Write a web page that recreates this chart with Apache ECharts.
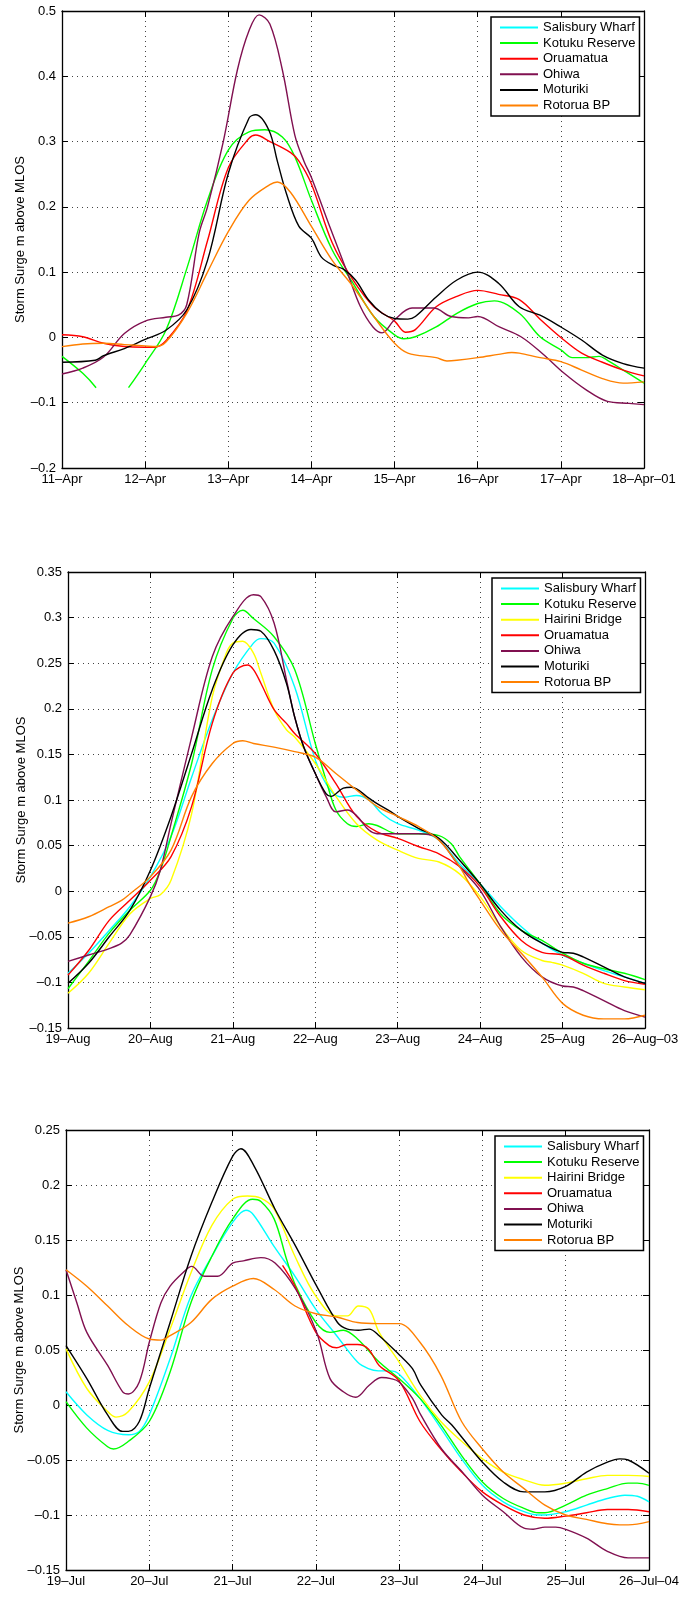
<!DOCTYPE html>
<html>
<head>
<meta charset="utf-8">
<script src="https://cdn.jsdelivr.net/npm/echarts@6/dist/echarts.min.js"></script>
<style>
  html, body { margin: 0; padding: 0; background: #fff; }
  #chart { width: 681px; height: 1613px; }
</style>
</head>
<body>
<div id="chart"></div>
<script>
// ---------- tick labels ----------
const p1XLabels = ['11–Apr', '12–Apr', '13–Apr', '14–Apr', '15–Apr', '16–Apr', '17–Apr', '18–Apr–01'];
const p2XLabels = ['19–Aug', '20–Aug', '21–Aug', '22–Aug', '23–Aug', '24–Aug', '25–Aug', '26–Aug–03'];
const p3XLabels = ['19–Jul', '20–Jul', '21–Jul', '22–Jul', '23–Jul', '24–Jul', '25–Jul', '26–Jul–04'];
const p1YRange = [-0.2, 0.5, 0.1];
const p2YRange = [-0.15, 0.35, 0.05];
const p3YRange = [-0.15, 0.25, 0.05];
const yAxisTitle = 'Storm Surge m above MLOS';

// ---------- series names ----------
const p1Names = ['Salisbury Wharf', 'Kotuku Reserve', 'Oruamatua', 'Ohiwa', 'Moturiki', 'Rotorua BP'];
const p23Names = ['Salisbury Wharf', 'Kotuku Reserve', 'Hairini Bridge', 'Oruamatua', 'Ohiwa', 'Moturiki', 'Rotorua BP'];

// ---------- data: [days since first tick, surge m] ----------
// Panel 1 : 11-18 Apr 2001
const p1Salisbury = [];
const p1Kotuku = [[0,-0.029],[0.25,-0.055],[0.41,-0.077],[0.6,'-'],[0.8,-0.077],[1.0,-0.04],[1.25,0.011],[1.5,0.105],[1.75,0.21],[2.0,0.287],[2.25,0.315],[2.44,0.318],[2.65,0.307],[2.8,0.277],[3.0,0.21],[3.25,0.134],[3.5,0.083],[3.75,0.032],[4.0,0.004],[4.11,-0.002],[4.25,0.001],[4.5,0.016],[4.75,0.037],[5.0,0.052],[5.2,0.056],[5.5,0.037],[5.75,0.001],[6.0,-0.019],[6.14,-0.031],[6.3,-0.031],[6.46,-0.029],[6.56,-0.035],[6.75,-0.05],[7.0,-0.07]];
const p1Oruamatua = [[0,0.004],[0.25,0.001],[0.5,-0.009],[0.75,-0.014],[1.0,-0.015],[1.11,-0.015],[1.25,-0.005],[1.5,0.04],[1.75,0.148],[2.0,0.26],[2.25,0.305],[2.33,0.31],[2.5,0.3],[2.75,0.283],[2.85,0.27],[3.0,0.235],[3.25,0.145],[3.5,0.088],[3.75,0.047],[4.0,0.025],[4.13,0.008],[4.25,0.012],[4.5,0.047],[4.75,0.063],[5.0,0.072],[5.25,0.066],[5.5,0.058],[5.75,0.028],[6.0,0.0],[6.25,-0.024],[6.5,-0.038],[6.75,-0.05],[7.0,-0.059]];
const p1Ohiwa = [[0,-0.056],[0.25,-0.047],[0.5,-0.030],[0.75,0.006],[1.0,0.025],[1.25,0.031],[1.4,0.034],[1.5,0.05],[1.65,0.16],[1.75,0.2],[1.94,0.30],[2.11,0.41],[2.25,0.47],[2.37,0.494],[2.5,0.48],[2.65,0.41],[2.8,0.31],[2.91,0.27],[3.0,0.245],[3.22,0.17],[3.43,0.1],[3.59,0.047],[3.74,0.016],[3.85,0.007],[4.0,0.027],[4.21,0.045],[4.47,0.045],[4.68,0.032],[4.89,0.03],[5.0,0.032],[5.26,0.016],[5.52,0.001],[5.78,-0.025],[6.04,-0.055],[6.3,-0.08],[6.56,-0.098],[6.82,-0.101],[7.0,-0.103]];
const p1Moturiki = [[0,-0.038],[0.4,-0.035],[0.5,-0.028],[0.75,-0.017],[1.0,-0.003],[1.25,0.011],[1.5,0.042],[1.75,0.118],[2.0,0.251],[2.25,0.336],[2.33,0.341],[2.49,0.317],[2.59,0.27],[2.7,0.22],[2.85,0.17],[3.0,0.152],[3.12,0.123],[3.27,0.11],[3.38,0.105],[3.53,0.088],[3.69,0.057],[3.85,0.037],[4.0,0.029],[4.16,0.028],[4.25,0.032],[4.5,0.062],[4.75,0.088],[5.0,0.1],[5.25,0.083],[5.5,0.047],[5.75,0.034],[6.0,0.016],[6.25,-0.004],[6.5,-0.027],[6.75,-0.04],[7.0,-0.047]];
const p1Rotorua = [[0,-0.014],[0.25,-0.01],[0.5,-0.009],[0.75,-0.011],[1.0,-0.013],[1.13,-0.014],[1.25,-0.007],[1.5,0.037],[1.75,0.1],[2.0,0.162],[2.25,0.21],[2.5,0.234],[2.59,0.238],[2.75,0.222],[3.0,0.17],[3.25,0.118],[3.5,0.078],[3.75,0.032],[4.0,-0.009],[4.16,-0.024],[4.5,-0.031],[4.63,-0.036],[4.75,-0.035],[5.0,-0.031],[5.25,-0.026],[5.41,-0.023],[5.5,-0.024],[5.75,-0.031],[6.0,-0.037],[6.25,-0.05],[6.5,-0.063],[6.75,-0.07],[7.0,-0.068]];

// Panel 2 : 19-26 Aug 2003
const p2Salisbury = [[0,-0.09],[0.25,-0.068],[0.5,-0.043],[0.75,-0.017],[1.0,0.016],[1.25,0.06],[1.5,0.125],[1.75,0.188],[2.0,0.239],[2.25,0.272],[2.34,0.277],[2.5,0.272],[2.75,0.224],[3.0,0.144],[3.18,0.111],[3.34,0.103],[3.5,0.105],[3.65,0.1],[3.81,0.085],[4.0,0.074],[4.25,0.067],[4.5,0.056],[4.75,0.03],[5.0,0.008],[5.25,-0.017],[5.5,-0.039],[5.75,-0.057],[6.0,-0.07],[6.25,-0.079],[6.5,-0.087],[6.75,-0.094],[7.0,-0.101]];
const p2Kotuku = [[0,-0.107],[0.25,-0.077],[0.5,-0.046],[0.75,-0.021],[1.0,0.001],[1.12,0.023],[1.25,0.06],[1.5,0.14],[1.75,0.243],[2.0,0.299],[2.12,0.308],[2.25,0.299],[2.5,0.279],[2.75,0.243],[3.0,0.162],[3.13,0.122],[3.25,0.089],[3.39,0.074],[3.5,0.071],[3.65,0.074],[3.75,0.072],[4.0,0.063],[4.25,0.063],[4.5,0.061],[4.65,0.052],[4.75,0.038],[5.0,0.008],[5.25,-0.025],[5.5,-0.043],[5.75,-0.054],[6.0,-0.068],[6.25,-0.079],[6.5,-0.085],[6.75,-0.09],[7.0,-0.097]];
const p2Hairini = [[0,-0.112],[0.25,-0.09],[0.5,-0.057],[0.75,-0.025],[1.0,-0.008],[1.12,-0.004],[1.25,0.012],[1.5,0.085],[1.75,0.213],[1.92,0.261],[2.0,0.272],[2.12,0.274],[2.25,0.261],[2.34,0.239],[2.5,0.199],[2.65,0.177],[2.75,0.169],[3.0,0.14],[3.25,0.104],[3.5,0.074],[3.75,0.056],[4.0,0.045],[4.25,0.036],[4.5,0.032],[4.75,0.019],[5.0,-0.006],[5.25,-0.039],[5.5,-0.065],[5.75,-0.076],[5.87,-0.078],[6.0,-0.081],[6.25,-0.09],[6.5,-0.101],[6.75,-0.105],[7.0,-0.108]];
const p2Oruamatua = [[0,-0.092],[0.25,-0.065],[0.5,-0.032],[0.75,-0.01],[1.0,0.012],[1.25,0.038],[1.5,0.093],[1.75,0.184],[2.0,0.239],[2.18,0.248],[2.25,0.243],[2.34,0.228],[2.5,0.199],[2.65,0.184],[2.75,0.173],[3.0,0.151],[3.25,0.118],[3.5,0.082],[3.75,0.065],[4.0,0.058],[4.25,0.049],[4.5,0.041],[4.75,0.027],[5.0,0.005],[5.25,-0.028],[5.5,-0.054],[5.75,-0.067],[6.0,-0.07],[6.25,-0.081],[6.5,-0.09],[6.75,-0.098],[7.0,-0.102]];
const p2Ohiwa = [[0,-0.077],[0.25,-0.07],[0.5,-0.063],[0.65,-0.057],[0.75,-0.048],[1.0,-0.006],[1.12,0.023],[1.25,0.074],[1.5,0.169],[1.75,0.257],[2.0,0.301],[2.25,0.325],[2.34,0.323],[2.5,0.294],[2.65,0.232],[2.75,0.191],[2.86,0.158],[3.0,0.129],[3.13,0.104],[3.25,0.087],[3.39,0.089],[3.5,0.083],[3.65,0.067],[3.75,0.063],[4.0,0.063],[4.25,0.063],[4.45,0.06],[4.75,0.027],[5.0,0.001],[5.25,-0.039],[5.5,-0.072],[5.75,-0.094],[6.0,-0.104],[6.13,-0.105],[6.25,-0.109],[6.5,-0.12],[6.75,-0.131],[7.0,-0.138]];
const p2Moturiki = [[0,-0.101],[0.25,-0.079],[0.5,-0.05],[0.75,-0.021],[1.0,0.023],[1.25,0.082],[1.5,0.151],[1.75,0.221],[2.0,0.27],[2.22,0.287],[2.34,0.285],[2.5,0.264],[2.65,0.228],[2.75,0.191],[2.86,0.158],[3.0,0.129],[3.13,0.107],[3.19,0.104],[3.34,0.113],[3.44,0.114],[3.65,0.102],[3.75,0.096],[3.92,0.087],[4.0,0.082],[4.25,0.069],[4.5,0.058],[4.75,0.034],[5.0,0.008],[5.25,-0.021],[5.5,-0.043],[5.75,-0.057],[6.0,-0.067],[6.13,-0.068],[6.25,-0.072],[6.5,-0.083],[6.75,-0.094],[7.0,-0.101]];
const p2Rotorua = [[0,-0.035],[0.25,-0.028],[0.5,-0.017],[0.65,-0.01],[0.75,-0.003],[1.0,0.016],[1.25,0.045],[1.5,0.104],[1.75,0.14],[2.0,0.162],[2.12,0.165],[2.25,0.162],[2.5,0.158],[2.75,0.153],[3.0,0.147],[3.25,0.129],[3.5,0.111],[3.75,0.093],[4.0,0.082],[4.25,0.071],[4.5,0.056],[4.75,0.027],[4.87,0.008],[5.0,-0.01],[5.25,-0.043],[5.5,-0.068],[5.75,-0.094],[6.0,-0.123],[6.25,-0.136],[6.5,-0.14],[6.75,-0.14],[7.0,-0.136]];

// Panel 3 : 19-26 Jul 2004
const p3Salisbury = [[0,0.012],[0.25,-0.009],[0.5,-0.023],[0.75,-0.027],[0.88,-0.024],[1.0,-0.009],[1.25,0.042],[1.5,0.099],[1.75,0.135],[2.0,0.166],[2.16,0.177],[2.25,0.173],[2.5,0.144],[2.75,0.117],[3.0,0.087],[3.25,0.063],[3.5,0.039],[3.63,0.033],[3.75,0.031],[3.89,0.031],[4.0,0.028],[4.25,0.006],[4.5,-0.021],[4.75,-0.049],[5.0,-0.073],[5.25,-0.088],[5.5,-0.097],[5.67,-0.1],[5.75,-0.1],[6.0,-0.097],[6.25,-0.091],[6.5,-0.085],[6.71,-0.082],[6.86,-0.083],[7.0,-0.088]];
const p3Kotuku = [[0,0.003],[0.25,-0.021],[0.5,-0.038],[0.57,-0.04],[0.75,-0.033],[1.0,-0.015],[1.25,0.03],[1.5,0.093],[1.75,0.135],[2.0,0.169],[2.24,0.187],[2.34,0.185],[2.5,0.169],[2.65,0.132],[2.76,0.108],[3.0,0.075],[3.17,0.066],[3.33,0.068],[3.5,0.06],[3.76,0.039],[4.0,0.024],[4.25,0.006],[4.5,-0.018],[4.75,-0.046],[5.0,-0.07],[5.25,-0.085],[5.5,-0.094],[5.67,-0.098],[5.75,-0.098],[6.0,-0.091],[6.25,-0.082],[6.5,-0.076],[6.75,-0.071],[6.86,-0.071],[7.0,-0.073]];
const p3Hairini = [[0,0.051],[0.25,0.015],[0.5,-0.006],[0.6,-0.011],[0.75,-0.006],[1.0,0.021],[1.25,0.069],[1.5,0.12],[1.75,0.163],[2.0,0.187],[2.18,0.19],[2.34,0.188],[2.5,0.178],[2.75,0.135],[3.0,0.099],[3.25,0.081],[3.38,0.081],[3.51,0.09],[3.64,0.087],[3.76,0.066],[4.0,0.039],[4.25,0.009],[4.5,-0.015],[4.75,-0.033],[5.0,-0.049],[5.25,-0.061],[5.5,-0.068],[5.75,-0.073],[6.0,-0.071],[6.25,-0.067],[6.5,-0.064],[6.75,-0.064],[7.0,-0.065]];
const p3Oruamatua = [[2.6,0.127],[2.75,0.108],[3.0,0.066],[3.16,0.054],[3.25,0.052],[3.37,0.055],[3.5,0.055],[3.63,0.051],[3.76,0.036],[4.0,0.022],[4.25,-0.015],[4.5,-0.04],[4.75,-0.061],[5.0,-0.079],[5.25,-0.091],[5.5,-0.1],[5.75,-0.103],[6.0,-0.101],[6.25,-0.098],[6.5,-0.095],[6.75,-0.095],[7.0,-0.097]];
const p3Ohiwa = [[0,0.123],[0.13,0.093],[0.25,0.066],[0.5,0.036],[0.68,0.012],[0.75,0.01],[0.88,0.021],[1.0,0.057],[1.14,0.093],[1.25,0.108],[1.4,0.12],[1.51,0.126],[1.66,0.117],[1.82,0.117],[2.0,0.129],[2.13,0.131],[2.34,0.134],[2.51,0.129],[2.76,0.105],[3.01,0.066],[3.17,0.024],[3.33,0.012],[3.48,0.007],[3.64,0.018],[3.79,0.025],[3.9,0.024],[4.0,0.021],[4.16,0.006],[4.26,-0.009],[4.51,-0.04],[4.76,-0.061],[5.0,-0.082],[5.25,-0.097],[5.5,-0.112],[5.61,-0.113],[5.75,-0.111],[5.88,-0.111],[6.0,-0.113],[6.25,-0.121],[6.5,-0.133],[6.75,-0.139],[7.0,-0.139]];
const p3Moturiki = [[0,0.054],[0.25,0.024],[0.5,-0.009],[0.68,-0.024],[0.75,-0.024],[0.88,-0.015],[1.0,0.015],[1.25,0.075],[1.5,0.135],[1.75,0.184],[2.0,0.226],[2.1,0.233],[2.26,0.217],[2.51,0.178],[2.76,0.144],[3.01,0.108],[3.26,0.075],[3.38,0.069],[3.51,0.068],[3.64,0.069],[3.76,0.063],[4.01,0.045],[4.16,0.033],[4.26,0.018],[4.51,-0.009],[4.63,-0.018],[4.76,-0.03],[5.0,-0.052],[5.25,-0.07],[5.5,-0.079],[5.75,-0.079],[6.0,-0.074],[6.25,-0.061],[6.5,-0.052],[6.65,-0.049],[6.75,-0.05],[7.0,-0.062]];
const p3Rotorua = [[0,0.123],[0.25,0.108],[0.5,0.09],[0.75,0.072],[1.0,0.06],[1.14,0.059],[1.25,0.063],[1.5,0.075],[1.75,0.096],[2.0,0.108],[2.25,0.115],[2.5,0.105],[2.75,0.09],[3.0,0.083],[3.25,0.08],[3.5,0.075],[3.75,0.074],[3.9,0.074],[4.0,0.074],[4.25,0.057],[4.5,0.027],[4.75,-0.015],[5.0,-0.04],[5.25,-0.061],[5.5,-0.076],[5.75,-0.091],[6.0,-0.1],[6.25,-0.104],[6.5,-0.108],[6.65,-0.109],[6.75,-0.109],[7.0,-0.106]];

// ---------- styling ----------
const seriesColors = {
  'Salisbury Wharf': '#00ffff',
  'Kotuku Reserve': '#00ff00',
  'Hairini Bridge': '#ffff00',
  'Oruamatua': '#ff0000',
  'Ohiwa': '#801050',
  'Moturiki': '#000000',
  'Rotorua BP': '#ff8000'
};
const FONT = "'Liberation Sans', Arial, sans-serif";

const panels = [
  { grid: { left: 62, top: 11, width: 582, height: 457 }, legend: { left: 491, top: 17 }, xLabels: p1XLabels, yRange: p1YRange, nameGap: 35,
    names: p1Names, data: [p1Salisbury, p1Kotuku, p1Oruamatua, p1Ohiwa, p1Moturiki, p1Rotorua] },
  { grid: { left: 68, top: 572, width: 577, height: 456 }, legend: { left: 492, top: 578 }, xLabels: p2XLabels, yRange: p2YRange, nameGap: 40,
    names: p23Names, data: [p2Salisbury, p2Kotuku, p2Hairini, p2Oruamatua, p2Ohiwa, p2Moturiki, p2Rotorua] },
  { grid: { left: 66, top: 1130, width: 583, height: 440 }, legend: { left: 495, top: 1136 }, xLabels: p3XLabels, yRange: p3YRange, nameGap: 40,
    names: p23Names, data: [p3Salisbury, p3Kotuku, p3Hairini, p3Oruamatua, p3Ohiwa, p3Moturiki, p3Rotorua] }
];

const fmtY = v => String(+(+v).toFixed(2)).replace('-', '–');

const option = { animation: false, backgroundColor: '#fff', grid: [], xAxis: [], yAxis: [], legend: [], series: [] };
const frameLine = { show: true, onZero: false, lineStyle: { color: '#000', width: 1.3 } };
const tick = { show: true, inside: true, length: 6, lineStyle: { color: '#000', width: 1 } };
const dotted = { show: true, lineStyle: { color: '#444', width: 1, type: [1, 4] } };

panels.forEach((p, i) => {
  option.grid.push(Object.assign({ containLabel: false, outerBoundsMode: 'none' }, p.grid));
  const labels = p.xLabels;
  option.xAxis.push({
    type: 'value', gridIndex: i, position: 'bottom', min: 0, max: 7, interval: 1,
    axisLine: frameLine, axisTick: tick, splitLine: dotted,
    axisLabel: { formatter: v => labels[Math.round(v)], color: '#000', fontSize: 13, fontFamily: FONT, margin: 5, showMinLabel: true, showMaxLabel: true, hideOverlap: false }
  });
  option.xAxis.push({
    type: 'value', gridIndex: i, position: 'top', min: 0, max: 7, interval: 1,
    axisLine: frameLine, axisTick: tick, splitLine: { show: false }, axisLabel: { show: false }
  });
  option.yAxis.push({
    type: 'value', gridIndex: i, position: 'left', min: p.yRange[0], max: p.yRange[1], interval: p.yRange[2],
    axisLine: frameLine, axisTick: tick, splitLine: dotted,
    axisLabel: { formatter: fmtY, color: '#000', fontSize: 13, fontFamily: FONT, margin: 6, showMinLabel: true, showMaxLabel: true },
    name: yAxisTitle, nameLocation: 'middle', nameRotate: 90, nameGap: p.nameGap, nameMoveOverlap: false,
    nameTextStyle: { color: '#000', fontSize: 13, fontFamily: FONT }
  });
  option.yAxis.push({
    type: 'value', gridIndex: i, position: 'right', min: p.yRange[0], max: p.yRange[1], interval: p.yRange[2],
    axisLine: frameLine, axisTick: tick, splitLine: { show: false }, axisLabel: { show: false }
  });
  option.legend.push({
    data: p.names, left: p.legend.left, top: p.legend.top, orient: 'vertical',
    itemWidth: 38, itemHeight: 14, itemGap: 2.6, padding: [4, 4, 4, 8],
    borderColor: '#000', borderWidth: 1.5, backgroundColor: '#fff', selectedMode: false,
    itemStyle: { opacity: 0 },
    textStyle: { color: '#000', fontSize: 13, fontFamily: FONT }
  });
  p.names.forEach((name, j) => {
    option.series.push({
      type: 'line', name: name, xAxisIndex: 2 * i, yAxisIndex: 2 * i,
      data: p.data[j], symbol: 'none', smooth: 0.35, connectNulls: false,
      lineStyle: { color: seriesColors[name], width: 1.4 },
      itemStyle: { color: seriesColors[name] },
      emphasis: { disabled: true }, z: 2 + j
    });
  });
});

const chart = echarts.init(document.getElementById('chart'), null, { renderer: 'canvas' });
chart.setOption(option);
</script>
</body>
</html>
